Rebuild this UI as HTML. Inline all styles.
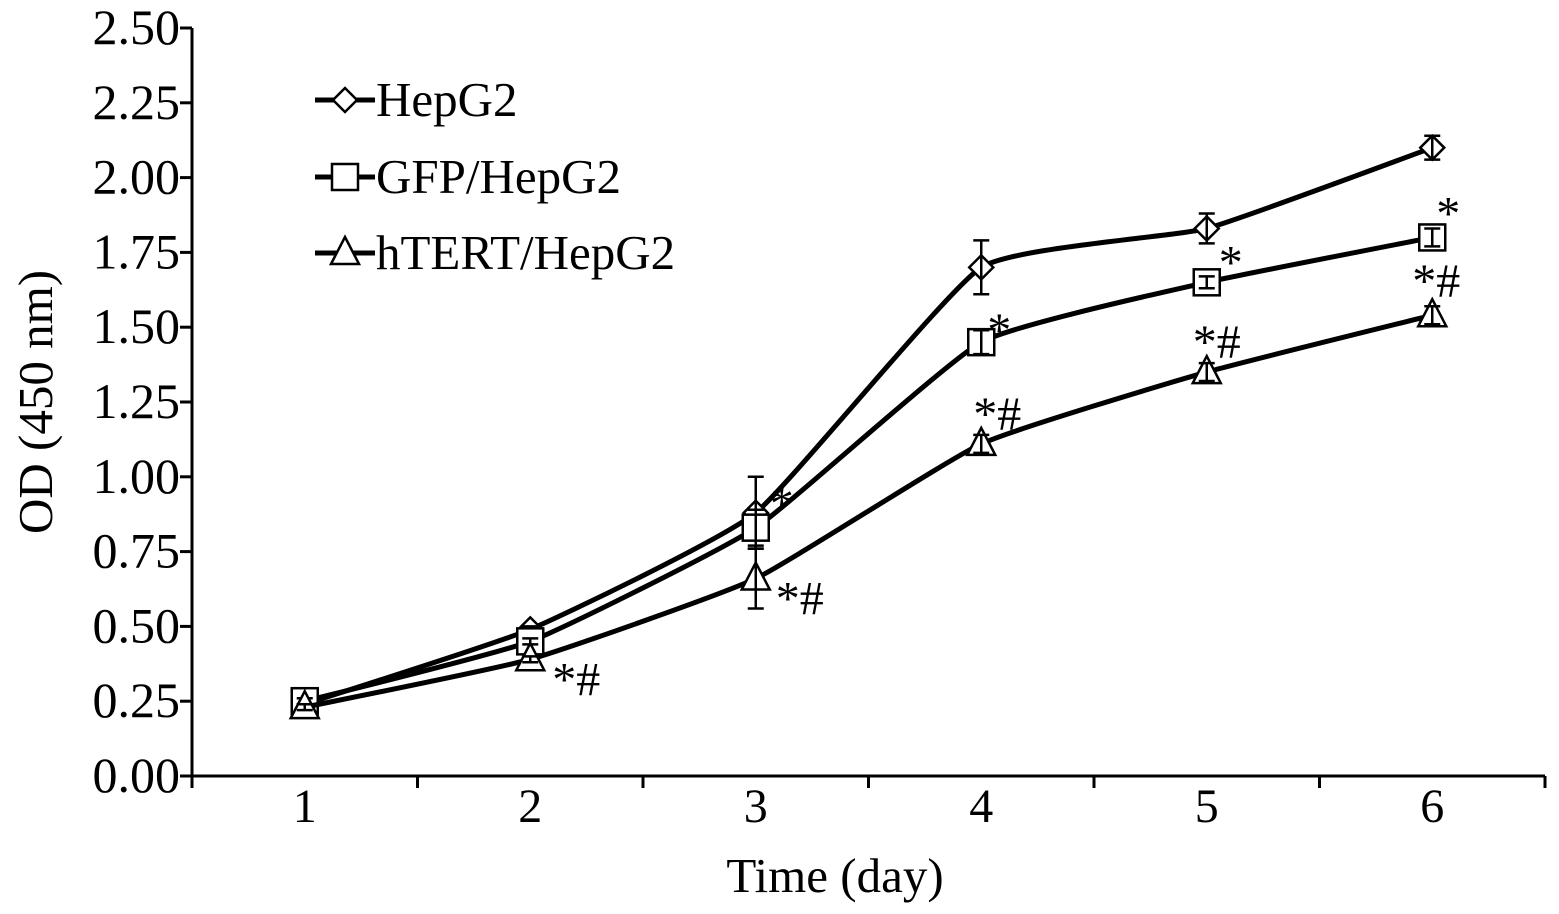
<!DOCTYPE html>
<html><head><meta charset="utf-8"><style>
html,body{margin:0;padding:0;background:#fff;}
svg{display:block;font-family:"Liberation Serif",serif;}
</style></head><body>
<svg id="chart" width="1559" height="914" viewBox="0 0 1559 914"></svg>
<script>
const days = ["1","2","3","4","5","6"];
const yTicks = [0,0.25,0.5,0.75,1.0,1.25,1.5,1.75,2.0,2.25,2.5];
const hepg2 = [0.24,0.49,0.88,1.70,1.83,2.10];
const hepg2Err = [0.01,0.01,0.12,0.09,0.05,0.04];
const gfp = [0.25,0.45,0.83,1.45,1.65,1.80];
const gfpErr = [0.01,0.01,0.06,0.04,0.02,0.03];
const htert = [0.23,0.39,0.66,1.11,1.35,1.54];
const htertErr = [0.01,0.01,0.10,0.03,0.03,0.03];
const gfpMarks = ["","","*","*","*","*"];
const htertMarks = ["","*#","*#","*#","*#","*#"];

const NS="http://www.w3.org/2000/svg";
const svg=document.getElementById('chart');
const X0=192,X1=1545,Y0=776,Y1=28,VMAX=2.5;
const band=(X1-X0)/days.length;
const xs=i=>X0+band*(i+0.5);
const ys=v=>Y0-(v/VMAX)*(Y0-Y1);
function el(t,a,p){const e=document.createElementNS(NS,t);for(const k in a)e.setAttribute(k,a[k]);(p||svg).appendChild(e);return e;}

const axes=el('g',{});


el('line',{x1:X0,y1:Y1,x2:X0,y2:Y0,stroke:'#000','stroke-width':3},axes);
el('line',{x1:X0,y1:Y0,x2:X1,y2:Y0,stroke:'#000','stroke-width':3},axes);
yTicks.forEach(v=>{
  const y=ys(v);
  el('line',{x1:X0-12,y1:y,x2:X0,y2:y,stroke:'#000','stroke-width':3},axes);
  const t=el('text',{x:X0-12,y:y+16,'text-anchor':'end','font-size':50},axes);
  t.textContent=v.toFixed(2);
  
  
});
for(let i=0;i<=days.length;i++){
  const x=X0+band*i;
  el('line',{x1:x,y1:Y0,x2:x,y2:Y0+12,stroke:'#000','stroke-width':3},axes);
}
days.forEach((d,i)=>{
  const t=el('text',{x:xs(i),y:Y0+46,'text-anchor':'middle','font-size':48},axes);
  t.textContent=d;
  
  
});
const xt=el('text',{x:835,y:892,'text-anchor':'middle','font-size':49});
xt.textContent='Time (day)';


const yt=el('text',{x:0,y:0,'text-anchor':'middle','font-size':49,transform:'translate(52,402) rotate(-90)'});
yt.textContent='OD (450 nm)';



function smoothPath(pts){
  let d=`M${pts[0][0]},${pts[0][1]}`;
  for(let i=0;i<pts.length-1;i++){
    const p0=pts[i-1]||pts[i],p1=pts[i],p2=pts[i+1],p3=pts[i+2]||p2;
    const k=14;
    const c1=[p1[0]+(p2[0]-p0[0])/k,p1[1]+(p2[1]-p0[1])/k];
    const c2=[p2[0]-(p3[0]-p1[0])/k,p2[1]-(p3[1]-p1[1])/k];
    d+=` C${c1[0]},${c1[1]} ${c2[0]},${c2[1]} ${p2[0]},${p2[1]}`;
  }
  return d;
}
function marker(g,type,x,y){
  let m;
  if(type==='diamond') m=el('polygon',{points:`${x},${y-12} ${x+12},${y} ${x},${y+12} ${x-12},${y}`,fill:'#fff',stroke:'#000','stroke-width':2.5},g);
  else if(type==='square') m=el('rect',{x:x-13,y:y-13,width:26,height:26,fill:'#fff',stroke:'#000','stroke-width':2.5},g);
  else m=el('polygon',{points:`${x},${y-16} ${x+14},${y+11} ${x-14},${y+11}`,fill:'#fff',stroke:'#000','stroke-width':2.5},g);
  return m;
}
// label offsets (layout only)
const gfpOff=[[0,0],[0,0],[14,-8],[6,4],[12,-4],[4,-8]];
const htertOff=[[0,0],[22,36],[20,36],[-8,-14],[-14,-14],[-20,-18]];
function series(name,vals,errs,type,marks,off){
  const g=el('g',{});
  
  
  const pts=vals.map((v,i)=>[xs(i),ys(v)]);
  const p=el('path',{d:smoothPath(pts),fill:'none',stroke:'#000','stroke-width':5},g);
  
  
  vals.forEach((v,i)=>{
    const x=xs(i);
    const m=marker(g,type,x,ys(v));
    
    
    const e=errs[i];
    el('line',{x1:x,y1:ys(v+e),x2:x,y2:ys(v-e),stroke:'#000','stroke-width':2.5},g);
    el('line',{x1:x-8,y1:ys(v+e),x2:x+8,y2:ys(v+e),stroke:'#000','stroke-width':2.5},g);
    el('line',{x1:x-8,y1:ys(v-e),x2:x+8,y2:ys(v-e),stroke:'#000','stroke-width':2.5},g);
    if(marks[i]){
      const t=el('text',{x:x+off[i][0],y:ys(v)+off[i][1],'font-size':48},g);
      t.textContent=marks[i];
      
      
    }
  });
}
series('hepg2',hepg2,hepg2Err,'diamond',["","","","","",""],gfpOff);
series('gfp-hepg2',gfp,gfpErr,'square',gfpMarks,gfpOff);
series('htert-hepg2',htert,htertErr,'triangle',htertMarks,htertOff);

const lg=el('g',{});


[['HepG2','diamond',100],['GFP/HepG2','square',177],['hTERT/HepG2','triangle',253]].forEach(([lab,type,y])=>{
  const e=el('g',{},lg);
  
  
  el('line',{x1:315,y1:y,x2:375,y2:y,stroke:'#000','stroke-width':5},e);
  marker(e,type,345,y);
  const t=el('text',{x:376,y:y+16,'font-size':49},e);
  t.textContent=lab;
});
</script>
</body></html>
